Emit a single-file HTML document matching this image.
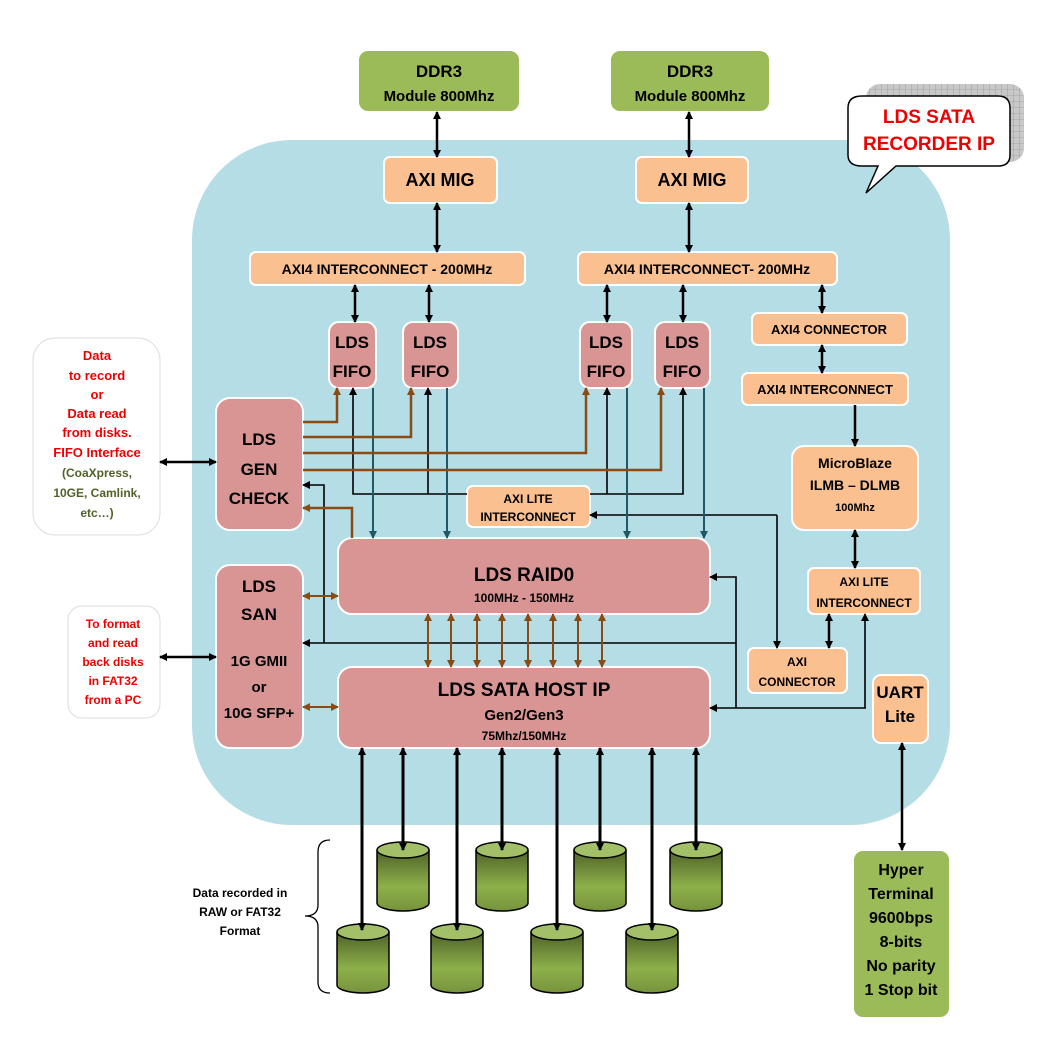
<!DOCTYPE html>
<html><head><meta charset="utf-8"><style>
body{margin:0;background:#fff}
svg{display:block;font-family:"Liberation Sans",sans-serif;font-weight:bold}
</style></head><body>
<svg width="1049" height="1054" viewBox="0 0 1049 1054" xmlns="http://www.w3.org/2000/svg">
<defs>
<marker id="a" markerWidth="8" markerHeight="8" refX="7" refY="4" orient="auto-start-reverse" markerUnits="userSpaceOnUse"><path d="M0,0 L8,4 L0,8 z" fill="#000"/></marker>
<marker id="ab" markerWidth="8" markerHeight="8" refX="7" refY="4" orient="auto-start-reverse" markerUnits="userSpaceOnUse"><path d="M0,0 L8,4 L0,8 z" fill="#8a4b12"/></marker>
<marker id="at" markerWidth="8" markerHeight="8" refX="7" refY="4" orient="auto-start-reverse" markerUnits="userSpaceOnUse"><path d="M0,0 L8,4 L0,8 z" fill="#215868"/></marker>
<linearGradient id="cy" x1="0" y1="0" x2="0" y2="1"><stop offset="0" stop-color="#4f6228"/><stop offset="0.6" stop-color="#8db04a"/><stop offset="1" stop-color="#77933c"/></linearGradient>
<pattern id="grid" width="6" height="6" patternUnits="userSpaceOnUse"><rect width="6" height="6" fill="#c8c8c8"/><path d="M6 0V6M0 6H6" stroke="#888" stroke-width="0.6"/></pattern>
</defs>

<rect x="192" y="140" width="758" height="685" rx="100" fill="#b5dde6"/>

<rect x="866" y="84" width="158" height="78" rx="14" fill="url(#grid)"/>
<path d="M862,96 H998 Q1010,96 1010,108 V155 Q1010,166 998,166 H896 L866,193 L878,166 H862 Q848,166 848,155 V108 Q848,96 862,96 Z" fill="#fff" stroke="#000" stroke-width="1.5"/>
<text x="929" y="123" font-size="19" fill="#e00" text-anchor="middle">LDS SATA</text>
<text x="929" y="150" font-size="19" fill="#e00" text-anchor="middle">RECORDER IP</text>

<g stroke="#fff" stroke-width="2">
<rect x="358" y="50" width="162" height="62" rx="10" fill="#9bbb59"/>
<rect x="610" y="50" width="160" height="62" rx="10" fill="#9bbb59"/>
<rect x="384" y="157" width="113" height="46" rx="6" fill="#fac090"/>
<rect x="636" y="157" width="112" height="46" rx="6" fill="#fac090"/>
<rect x="250" y="252" width="275" height="33" rx="6" fill="#fac090"/>
<rect x="578" y="252" width="259" height="33" rx="6" fill="#fac090"/>
<rect x="329" y="322" width="47" height="66" rx="10" fill="#d99594"/>
<rect x="403" y="322" width="55" height="66" rx="10" fill="#d99594"/>
<rect x="580" y="322" width="52" height="66" rx="10" fill="#d99594"/>
<rect x="655" y="322" width="55" height="66" rx="10" fill="#d99594"/>
<rect x="216" y="398" width="87" height="132" rx="14" fill="#d99594"/>
<rect x="216" y="565" width="87" height="183" rx="14" fill="#d99594"/>
<rect x="338" y="538" width="372" height="76" rx="14" fill="#d99594"/>
<rect x="338" y="667" width="372" height="81" rx="14" fill="#d99594"/>
<rect x="467" y="486" width="123" height="41" rx="6" fill="#fac090"/>
<rect x="752" y="313" width="155" height="32" rx="6" fill="#fac090"/>
<rect x="742" y="373" width="166" height="32" rx="6" fill="#fac090"/>
<rect x="792" y="446" width="126" height="84" rx="12" fill="#fac090"/>
<rect x="808" y="568" width="112" height="46" rx="6" fill="#fac090"/>
<rect x="748" y="648" width="99" height="45" rx="6" fill="#fac090"/>
<rect x="873" y="675" width="55" height="68" rx="8" fill="#fac090"/>
<rect x="853" y="850" width="97" height="168" rx="10" fill="#9bbb59"/>
</g>
<rect x="33" y="338" width="127" height="197" rx="22" fill="#fff" stroke="#ddd"/>
<rect x="68" y="606" width="92" height="112" rx="14" fill="#fff" stroke="#ddd"/>

<g stroke="#000" stroke-width="2.5" fill="none" marker-start="url(#a)" marker-end="url(#a)">
<path d="M437 112V157"/><path d="M689 112V157"/><path d="M437 203V252"/><path d="M689 203V252"/>
<path d="M355 285V322"/><path d="M429 285V322"/><path d="M607 285V322"/><path d="M683 285V322"/>
<path d="M822 285V313"/><path d="M822 345V373"/><path d="M855 530V568"/><path d="M829 614V648"/>
<path d="M902 743V850"/><path d="M160 462H216"/><path d="M160 657H216"/>
</g>
<g stroke="#000" stroke-width="2.5" fill="none" marker-end="url(#a)">
<path d="M855 405V446"/>
</g>
<g stroke="#000" stroke-width="1.6" fill="none" marker-end="url(#a)">
<path d="M467 494H353V388"/><path d="M428 494V388"/>
<path d="M590 494H683V388"/><path d="M607 494V388"/>
<path d="M324 643V485H303"/>
<path d="M736 643H303"/>
<path d="M777 515H590"/><path d="M777 515V648"/>
<path d="M736 708V577H710"/>
<path d="M866 708H710"/>
<path d="M865 708V614"/>
</g>
<g stroke="#215868" stroke-width="2" fill="none" marker-end="url(#at)">
<path d="M373 388V538"/><path d="M447 388V538"/><path d="M627 388V538"/><path d="M704 388V538"/>
</g>
<g stroke="#8a4b12" stroke-width="2.5" fill="none" marker-end="url(#ab)">
<path d="M303 422H337V388"/><path d="M303 437H411V388"/><path d="M303 453H586V388"/><path d="M303 470H661V388"/>
<path d="M352 538V508H303"/>
</g>
<g stroke="#8a4b12" stroke-width="2" fill="none" marker-start="url(#ab)" marker-end="url(#ab)">
<path d="M428 614V667"/><path d="M451 614V667"/><path d="M477 614V667"/><path d="M502 614V667"/>
<path d="M528 614V667"/><path d="M553 614V667"/><path d="M578 614V667"/><path d="M602 614V667"/>
<path d="M303 596H338"/><path d="M303 707H338"/>
</g>

<g stroke="#000" stroke-width="1.5">
<g id="d1"><path d="M377,850 V903 A26,8 0 0 0 429,903 V850" fill="url(#cy)"/><ellipse cx="403" cy="850" rx="26" ry="8" fill="#a3c068"/></g>
<use href="#d1" x="99"/><use href="#d1" x="197"/><use href="#d1" x="293"/>
<use href="#d1" x="-40" y="82"/><use href="#d1" x="54" y="82"/><use href="#d1" x="154" y="82"/><use href="#d1" x="249" y="82"/>
</g>
<g stroke="#000" stroke-width="3" fill="none" marker-start="url(#a)" marker-end="url(#a)">
<path d="M362 748V930"/><path d="M457 748V930"/><path d="M557 748V930"/><path d="M652 748V930"/>
<path d="M403 748V850"/><path d="M502 748V850"/><path d="M600 748V850"/><path d="M696 748V850"/>
</g>
<path d="M330,840 Q318,840 318,852 V905 Q318,916 305,916 Q318,916 318,927 V982 Q318,993 330,993" fill="none" stroke="#000" stroke-width="1.3"/>

<g text-anchor="middle" fill="#000">
<text x="439" y="77" font-size="17">DDR3</text><text x="439" y="101" font-size="15">Module 800Mhz</text>
<text x="690" y="77" font-size="17">DDR3</text><text x="690" y="101" font-size="15">Module 800Mhz</text>
<text x="440" y="186" font-size="18">AXI MIG</text><text x="692" y="186" font-size="18">AXI MIG</text>
<text x="387" y="274" font-size="14">AXI4 INTERCONNECT - 200MHz</text>
<text x="707" y="274" font-size="14">AXI4 INTERCONNECT- 200MHz</text>
<g font-size="17"><text x="352" y="348">LDS</text><text x="352" y="377">FIFO</text>
<text x="430" y="348">LDS</text><text x="430" y="377">FIFO</text>
<text x="606" y="348">LDS</text><text x="606" y="377">FIFO</text>
<text x="682" y="348">LDS</text><text x="682" y="377">FIFO</text>
<text x="259" y="445">LDS</text><text x="259" y="475">GEN</text><text x="259" y="504">CHECK</text>
<text x="259" y="592">LDS</text><text x="259" y="620">SAN</text>
<text x="900" y="698">UART</text><text x="900" y="722">Lite</text></g>
<g font-size="15"><text x="259" y="666">1G GMII</text><text x="259" y="692">or</text><text x="259" y="718">10G SFP+</text></g>
<text x="524" y="581" font-size="19">LDS RAID0</text><text x="524" y="602" font-size="12">100MHz - 150MHz</text>
<text x="524" y="696" font-size="19">LDS SATA HOST IP</text><text x="524" y="720" font-size="15">Gen2/Gen3</text><text x="524" y="740" font-size="12">75Mhz/150MHz</text>
<g font-size="12"><text x="528" y="503">AXI LITE</text><text x="528" y="521">INTERCONNECT</text>
<text x="864" y="586">AXI LITE</text><text x="864" y="607">INTERCONNECT</text>
<text x="797" y="666">AXI</text><text x="797" y="686">CONNECTOR</text></g>
<text x="829" y="334" font-size="13">AXI4 CONNECTOR</text>
<text x="825" y="394" font-size="13">AXI4 INTERCONNECT</text>
<text x="855" y="468" font-size="14">MicroBlaze</text><text x="855" y="490" font-size="14">ILMB – DLMB</text><text x="855" y="511" font-size="11">100Mhz</text>
<g font-size="13" fill="#e00"><text x="97" y="360">Data</text><text x="97" y="380">to record</text><text x="97" y="399">or</text><text x="97" y="418">Data read</text><text x="97" y="437">from disks.</text><text x="97" y="457">FIFO Interface</text></g>
<g font-size="12" fill="#4f6228"><text x="97" y="477">(CoaXpress,</text><text x="97" y="497">10GE, Camlink,</text><text x="97" y="517">etc…)</text></g>
<g font-size="12" fill="#e00"><text x="113" y="628">To format</text><text x="113" y="647">and read</text><text x="113" y="666">back disks</text><text x="113" y="685">in FAT32</text><text x="113" y="704">from a PC</text></g>
<g font-size="12"><text x="240" y="897">Data recorded in</text><text x="240" y="916">RAW or FAT32</text><text x="240" y="935">Format</text></g>
<g font-size="16"><text x="901" y="875">Hyper</text><text x="901" y="899">Terminal</text><text x="901" y="923">9600bps</text><text x="901" y="947">8-bits</text><text x="901" y="971">No parity</text><text x="901" y="995">1 Stop bit</text></g>
</g>
</svg>
</body></html>
